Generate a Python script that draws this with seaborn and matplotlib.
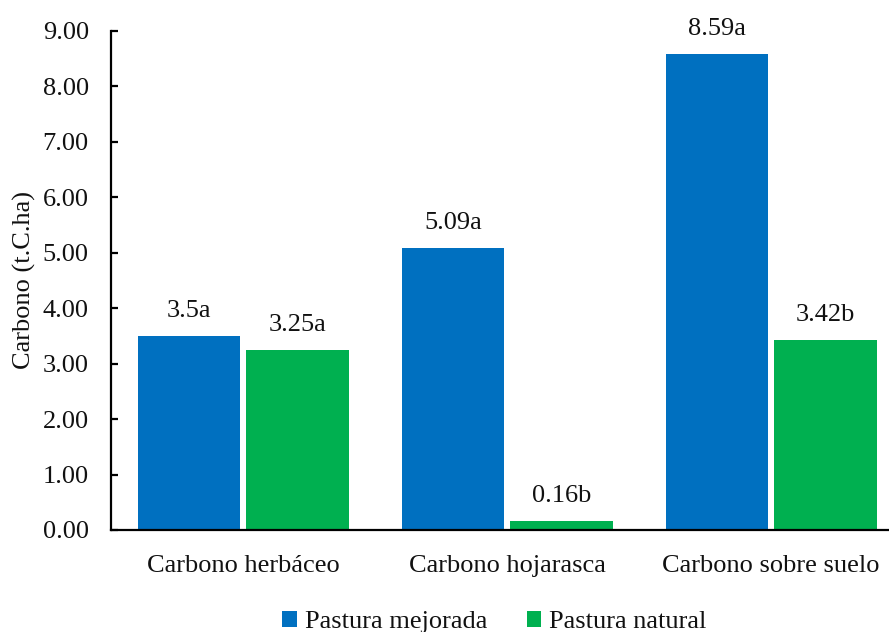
import matplotlib
matplotlib.use("Agg")
import matplotlib.pyplot as plt
import seaborn as sns
import pandas as pd
from matplotlib.ticker import FormatStrFormatter, MultipleLocator
from matplotlib.patches import Patch

# Carbon stocks (t C/ha) per component and pasture type
categories = ["Carbono herbáceo", "Carbono hojarasca", "Carbono sobre suelo"]
series_names = ["Pastura mejorada", "Pastura natural"]
mejorada = [3.5, 5.09, 8.59]
natural = [3.25, 0.16, 3.42]
letters_mejorada = ["a", "a", "a"]
letters_natural = ["a", "b", "b"]
colors = ["#0070C0", "#00B050"]

df = pd.DataFrame({
    "componente": categories * 2,
    "pastura": [series_names[0]] * 3 + [series_names[1]] * 3,
    "carbono": mejorada + natural,
})

sns.set_theme(style="white")
plt.rcParams["font.family"] = ["Liberation Serif", "DejaVu Serif"]
FS = 19

fig = plt.figure(figsize=(8.89, 6.32), dpi=100)
ax = fig.add_axes([0.1249, 0.1614, 0.891, 0.7896])

sns.barplot(data=df, x="componente", y="carbono", hue="pastura",
            order=categories, hue_order=series_names, palette=colors,
            width=0.82, gap=0.05, saturation=1, ax=ax, legend=False,
            edgecolor="none")

for cont, vals, lets in zip(ax.containers, [mejorada, natural],
                            [letters_mejorada, letters_natural]):
    ax.bar_label(cont, labels=[f"{v:g}{l}" for v, l in zip(vals, lets)],
                 padding=10, fontsize=FS, color="#111111")

ax.set_xlim(-0.5, 2.5)
ax.set_ylim(0, 9)
ax.yaxis.set_major_locator(MultipleLocator(1))
ax.yaxis.set_major_formatter(FormatStrFormatter("%.2f"))
ax.set_xlabel("")
ax.set_ylabel("Carbono (t.C.ha)", fontsize=FS, labelpad=5, color="#111111")

for s in ["top", "right"]:
    ax.spines[s].set_visible(False)
for s in ["left", "bottom"]:
    ax.spines[s].set_color("black")
    ax.spines[s].set_linewidth(1.6)

ax.tick_params(axis="y", direction="in", length=5, width=1.6, color="black",
               labelsize=FS, labelcolor="#111111", pad=16, left=True)
ax.tick_params(axis="x", length=0, labelsize=FS, labelcolor="#111111", pad=18)

handles = [Patch(facecolor=c, edgecolor="none") for c in colors]
fig.legend(handles, series_names, loc="center", bbox_to_anchor=(0.556, 0.016),
           ncol=2, frameon=False, fontsize=FS, handlelength=0.55,
           handleheight=0.55, handletextpad=0.3, columnspacing=1.5,
           labelcolor="#111111")

fig.savefig("out.png", dpi=100, facecolor="white")
